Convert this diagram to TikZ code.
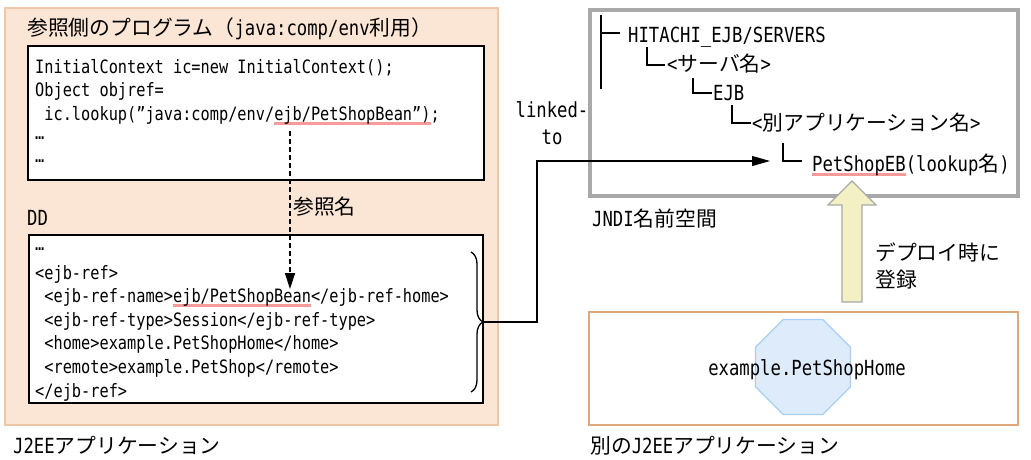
\documentclass[tikz,border=0pt]{standalone}
\usepackage{fontspec}
\setmainfont{Noto Sans CJK JP}
\setmonofont[FakeStretch=0.83]{DejaVu Sans Mono}
\usetikzlibrary{arrows.meta,shapes.geometric,decorations.pathreplacing}

\definecolor{peachfill}{HTML}{FBE6D5}
\definecolor{peachline}{HTML}{EEC8A6}
\definecolor{appline}{HTML}{DFA878}
\definecolor{jndigray}{HTML}{A9A9A9}
\definecolor{ulred}{HTML}{F79A9A}
\definecolor{regfill}{HTML}{F3F1C3}
\definecolor{octfill}{HTML}{DDEBFA}
\definecolor{octline}{HTML}{A8CFF4}

\newcommand\jp[1]{{\rmfamily #1}}
\newsavebox\ulbox
\newcommand\redul[1]{\sbox\ulbox{#1}\rlap{\color{ulred}\rule[-4.5pt]{\wd\ulbox}{3pt}}\usebox\ulbox}

\tikzset{
  lbl/.style={inner sep=0pt, font=\fontsize{20.8}{27}\selectfont\ttfamily},
  codeline/.style={inner sep=0pt, anchor=base west, font=\fontsize{18.4}{22}\selectfont\ttfamily},
  box/.style={draw, line width=1.5pt, fill=white, anchor=north west, inner sep=0pt, outer sep=0pt},
  tree/.style={line width=1.3pt},
  link/.style={line width=1.3pt, -{Triangle[length=18pt,width=10pt]}},
  refarrow/.style={line width=1.4pt, dash pattern=on 5pt off 3pt, -{Triangle[length=16pt,width=10pt]}},
}

\begin{document}
\begin{tikzpicture}[x=1pt,y=-1pt]
\useasboundingbox (0,0) rectangle (1031,459);

% J2EE application
\node[box, draw=peachline, fill=peachfill, minimum width=493pt, minimum height=417pt] (j2ee) at (5,8) {};
\node[lbl, anchor=base west] (progttl) at (27,35) {\jp{参照側のプログラム（}java:comp/env\jp{利用）}};

\node[box, minimum width=456pt, minimum height=134pt] (progbox) at (28,46) {};
\foreach \t [count=\i, evaluate=\i as \y using 49.7+23.6*\i] in {
  {InitialContext ic=new InitialContext();},
  {Object objref=},
  {\hphantom{i}ic.lookup(”java:comp/env/\redul{ejb/PetShopBean”)};},
  {\raisebox{5pt}{…}},
  {\raisebox{5pt}{…}}}
  \node[codeline] (pl\i) at (35,\y) {\t};

\node[lbl, anchor=base west] (ddttl) at (27,225) {DD};
\node[lbl, anchor=base west] (refname) at (293,214) {\jp{参照名}};

\node[box, minimum width=454pt, minimum height=168pt] (ddbox) at (29,235) {};
\foreach \t [count=\i, evaluate=\i as \y using 231.8+23.6*\i] in {
  {\raisebox{5pt}{…}},
  {<ejb-ref>},
  {\hphantom{<}<ejb-ref-name>\redul{ejb/PetShopBean}</ejb-ref-home>},
  {\hphantom{<}<ejb-ref-type>Session</ejb-ref-type>},
  {\hphantom{<}<home>example.PetShopHome</home>},
  {\hphantom{<}<remote>example.PetShop</remote>},
  {</ejb-ref>}}
  \node[codeline] (dl\i) at (35,\y) {\t};

\coordinate (refsrc) at (290,131);
\coordinate (reftgt) at (290,289);
\draw[refarrow] (refsrc) -- (reftgt);

\draw[decorate, decoration={brace, amplitude=12pt}, line width=1.3pt] (471,252) -- (471,392);
\coordinate (bracetip) at (483,322);

\node[lbl, anchor=base west] (j2eelbl) at (13,453) {J2EE\jp{アプリケーション}};

% JNDI name space
\node[box, draw=jndigray, fill=none, line width=4pt, minimum width=428pt, minimum height=186pt] (jndi) at (590,10) {};
\draw[tree] (601,15) -- (601,89);
\node[lbl, anchor=base west] (srv) at (628,42) {HITACHI\_EJB/SERVERS};
\node[lbl, anchor=base west] (svname) at (667,71) {<\jp{サーバ名}>};
\node[lbl, anchor=base west] (ejbn) at (713,100) {EJB};
\node[lbl, anchor=base west] (app) at (752,130) {<\jp{別アプリケーション名}>};
\node[lbl, anchor=base west] (lookup) at (812,171) {\redul{PetShopEB}(lookup\jp{名})};
\draw[tree] ([shift={(-8,-9)}]srv.base west) -- ++(-19,0);
\foreach \n/\g/\h/\d/\u in {svname/2/6/20/24, ejbn/1/7/20/22, app/1/7/20/25, lookup/10/10/29/28}
  \draw[tree] ([shift={(-\g,-\h)}]\n.base west) -| ([shift={(-\d,-\u)}]\n.base west);

\coordinate (lookupin) at (770,161);
\draw[link] (bracetip) -- ++(54,0) |- (lookupin);
\node[lbl, align=center] (linkto) at (552,123) {linked-\\to};

\node[lbl, anchor=base west] (jndilbl) at (592,226) {JNDI\jp{名前空間}};

% registration at deploy
\draw[draw=jndigray, fill=regfill, line width=1.2pt]
  (842,302) -- (842,205) -- (828,205) -- (852,181) -- (876,205) -- (862,205) -- (862,302) -- cycle;
\node[lbl, anchor=west, align=left] (deploy) at (875,266) {\jp{デプロイ時に}\\\jp{登録}};

% other J2EE application
\node[box, draw=appline, minimum width=429pt, minimum height=113pt] (otherapp) at (589,312) {};
\node[regular polygon, regular polygon sides=8, minimum size=103pt, fill=octfill, draw=octline, line width=1.2pt, inner sep=0pt] (oct) at (803,367) {};
\node[lbl, anchor=base] (homelbl) at (807,375) {example.PetShopHome};
\node[lbl, anchor=base west] (otherlbl) at (590,453) {\jp{別の}J2EE\jp{アプリケーション}};
\end{tikzpicture}
\end{document}
